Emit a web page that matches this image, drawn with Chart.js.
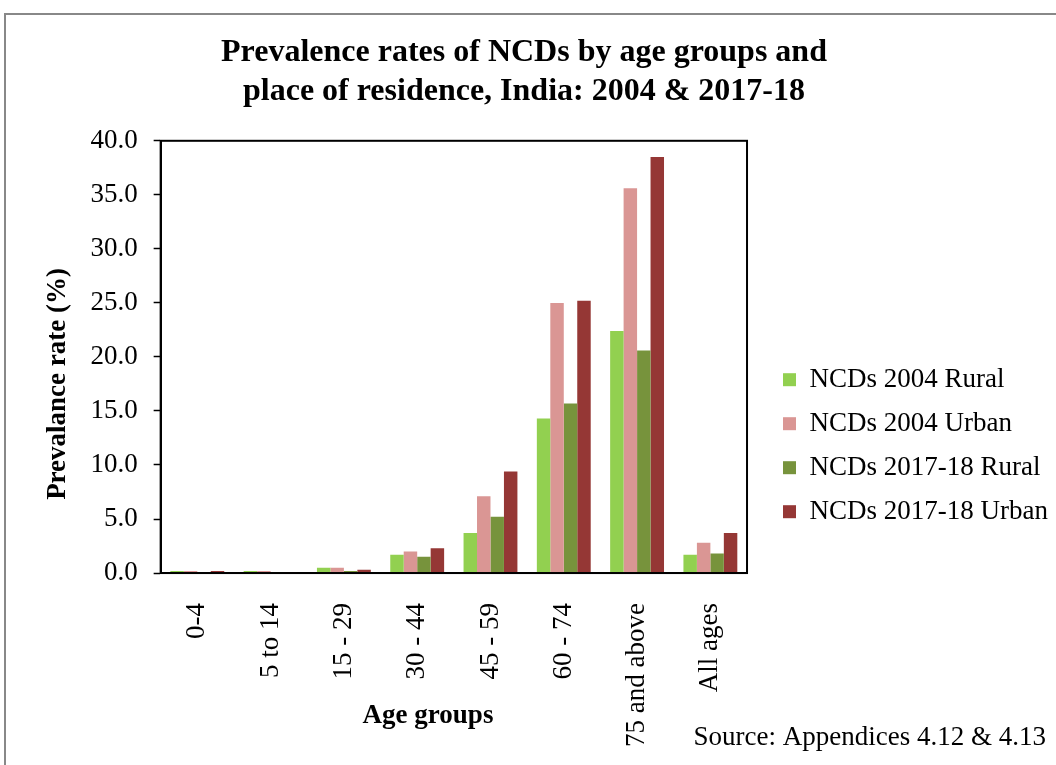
<!DOCTYPE html>
<html>
<head>
<meta charset="utf-8">
<script src="https://cdn.jsdelivr.net/npm/chart.js@4.4.0/dist/chart.umd.min.js"></script>
<style>
    html, body { margin: 0; padding: 0; background: #fff; }
    #wrap { position: relative; width: 1056px; height: 765px; }
</style>
</head>
<body>
<div id="wrap"><canvas id="ncdChart" width="1056" height="765"></canvas></div>
<script>
const ageGroups = ["0-4", "5 to 14", "15 - 29", "30 - 44", "45 - 59", "60 - 74", "75 and above", "All ages"];
const rural2004 = [0.2, 0.2, 0.5, 1.7, 3.7, 14.3, 22.4, 1.7];
const urban2004 = [0.2, 0.2, 0.5, 2.0, 7.1, 25.0, 35.6, 2.8];
const rural2017 = [0.0, 0.1, 0.2, 1.5, 5.2, 15.7, 20.6, 1.8];
const urban2017 = [0.2, 0.1, 0.3, 2.3, 9.4, 25.2, 38.5, 3.7];
const yTicks = [0, 5, 10, 15, 20, 25, 30, 35, 40];

const serif = "'Liberation Serif', 'Times New Roman', serif";

// gray frame round the whole figure, black box round the plot
const framePlugin = {
    id: "frame",
    afterLayout(chart) {
        // title sits a little left of the full-width centre
        chart.titleBlock.left -= 24;
        chart.titleBlock.right -= 24;
    },
    beforeDraw(chart) {
        const ctx = chart.ctx;
        ctx.save();
        ctx.fillStyle = "#fff";
        ctx.fillRect(0, 0, chart.width, chart.height);
        ctx.strokeStyle = "#888";
        ctx.lineWidth = 2;
        ctx.strokeRect(5, 14, chart.width + 10, chart.height + 10);
        ctx.restore();
    },
    afterDraw(chart) {
        const a = chart.chartArea;
        const ctx = chart.ctx;
        ctx.save();
        ctx.strokeStyle = "#000";
        ctx.lineWidth = 2;
        ctx.strokeRect(a.left, a.top, a.right - a.left, a.bottom - a.top);
        ctx.fillStyle = "#000";
        ctx.font = "27px " + serif;
        ctx.textAlign = "right";
        ctx.textBaseline = "middle";
        ctx.fillText("Source: Appendices 4.12 & 4.13", 1046, 738);
        ctx.font = "bold 27px " + serif;
        ctx.textAlign = "center";
        ctx.fillText("Age groups", 428, 716);
        ctx.restore();
    }
};

const canvas = document.getElementById("ncdChart");
const chart = new Chart(canvas, {
    type: "bar",
    data: {
        labels: ageGroups,
        datasets: [
            { label: "NCDs 2004 Rural", data: rural2004, backgroundColor: "#92D050" },
            { label: "NCDs 2004 Urban", data: urban2004, backgroundColor: "#DA9694" },
            { label: "NCDs 2017-18 Rural", data: rural2017, backgroundColor: "#77933C" },
            { label: "NCDs 2017-18 Urban", data: urban2017, backgroundColor: "#953735" }
        ]
    },
    options: {
        responsive: false,
        animation: false,
        datasets: {
            bar: { categoryPercentage: 0.735, barPercentage: 1.0 }
        },
        layout: {
            padding: { left: 38, right: -2, top: 0, bottom: -4 }
        },
        plugins: {
            title: {
                display: true,
                text: ["Prevalence rates of NCDs by age groups and", "place of residence, India: 2004 & 2017-18"],
                color: "#000",
                font: { family: serif, size: 32, weight: "bold", lineHeight: 1.2 },
                padding: { top: 34, bottom: 30 }
            },
            legend: {
                position: "right",
                maxWidth: 320,
                title: { display: true, text: "", padding: { top: 108 } },
                labels: {
                    color: "#000",
                    font: { family: serif, size: 27 },
                    boxWidth: 13,
                    boxHeight: 13,
                    padding: 17
                }
            },
            tooltip: { enabled: false }
        },
        scales: {
            x: {
                grid: { display: false },
                border: { color: "#000", width: 2 },
                ticks: {
                    color: "#000",
                    font: { family: serif, size: 27 },
                    minRotation: 90,
                    maxRotation: 90,
                    padding: 22
                }
            },
            y: {
                min: 0,
                max: 40,
                afterBuildTicks(scale) {
                    scale.ticks = yTicks.map(v => ({ value: v }));
                },
                grid: { drawOnChartArea: false, color: "#000", tickLength: 7, tickWidth: 1.5 },
                border: { color: "#000", width: 2 },
                ticks: {
                    color: "#000",
                    font: { family: serif, size: 27 },
                    padding: 16,
                    callback: v => v.toFixed(1)
                },
                title: {
                    display: true,
                    // trailing spaces push the rotated text down a bit
                    text: "Prevalance rate (%)        ",
                    color: "#000",
                    font: { family: serif, size: 27, weight: "bold" },
                    padding: { bottom: 0 }
                }
            },
            // empty spacer between plot and legend
            gap: {
                type: "linear",
                position: "right",
                grid: { display: false },
                border: { display: false },
                ticks: { display: false },
                afterFit(scale) {
                    scale.width = 19;
                }
            }
        }
    },
    plugins: [framePlugin]
});
</script>
</body>
</html>
